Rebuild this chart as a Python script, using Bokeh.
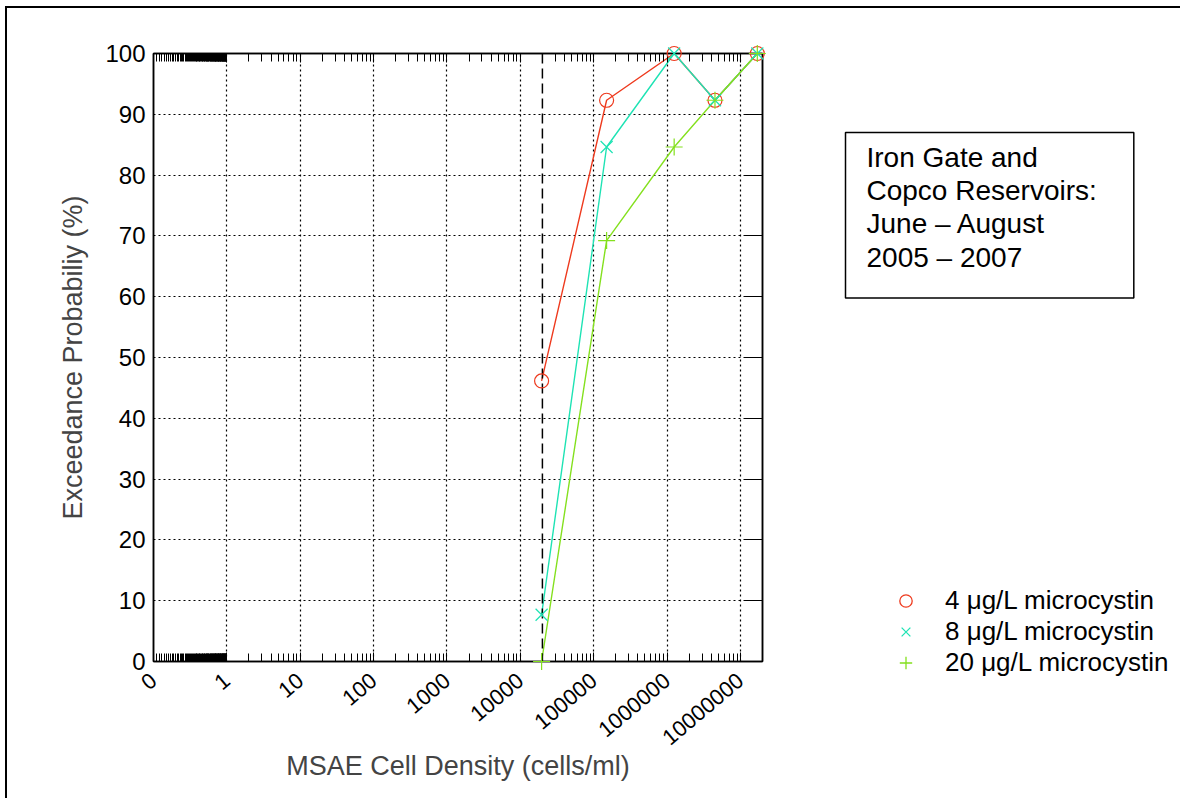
import math
import numpy as np
from bokeh.plotting import figure
from bokeh.layouts import row
from bokeh.models import (Range1d, FixedTicker, LogAxis, LinearAxis, CustomJSTickFormatter,
                          Span, Legend, LegendItem, Label)
from bokeh.embed import file_html
from bokeh.resources import INLINE

# ---- data ----
cell_density = [19500, 150000, 1250000, 4500000, 17000000]
prob_4 = [46.15, 92.31, 100.0, 92.31, 100.0]
prob_8 = [7.69, 84.62, 100.0, 92.31, 100.0]
prob_20 = [0.0, 69.23, 84.62, 92.31, 100.0]
series_labels = ["4 \u03bcg/L microcystin", "8 \u03bcg/L microcystin", "20 \u03bcg/L microcystin"]
threshold = 20000
x_major_ticks = [0.1, 1, 10, 100, 1000, 10000, 100000, 1000000, 10000000]
y_ticks = [0, 10, 20, 30, 40, 50, 60, 70, 80, 90, 100]
box_text = "Iron Gate and\nCopco Reservoirs:\nJune \u2013 August\n2005 \u2013 2007"
x_title = "MSAE Cell Density (cells/ml)"
y_title = "Exceedance Probabiliy (%)"

FONT = "Liberation Sans"
RED = "#EE3A1E"
CYAN = "#1EE3B4"
GREEN = "#84E01E"

minor = [0.1 + 0.01 * i for i in range(1, 90)]
minor += [m * 10 ** k for k in range(0, 8) for m in range(2, 10)]
minor = [v for v in minor if v <= 2e7]

TOTAL_W, TOTAL_H = 1180, 798
MAIN_W = 800
p = figure(width=MAIN_W, height=TOTAL_H, x_axis_type="log",
           x_range=Range1d(0.1, 2e7), y_range=Range1d(0, 100),
           output_backend="svg", toolbar_location=None,
           min_border_left=153, min_border_right=MAIN_W - 153 - 609,
           min_border_top=53, min_border_bottom=TOTAL_H - 53 - 608,
           background_fill_color="white", border_fill_color=None)
p.outline_line_color = "black"
p.outline_line_width = 1.5

xticker = FixedTicker(ticks=x_major_ticks, minor_ticks=minor)
yticker = FixedTicker(ticks=y_ticks)

xa = p.xaxis[0]
xa.ticker = xticker
xa.formatter = CustomJSTickFormatter(code="return tick < 0.5 ? '0' : tick.toFixed(0);")
xa.major_label_orientation = math.radians(40)
xa.major_label_standoff = 16
xa.major_label_text_font = FONT
xa.major_label_text_font_size = "22px"
xa.major_label_text_color = "black"
xa.major_tick_in = 9
xa.major_tick_out = 0
xa.minor_tick_in = 8
xa.minor_tick_out = 0
xa.major_tick_line_color = "black"
xa.minor_tick_line_color = "black"
xa.axis_line_width = 1.5
xa.axis_label = x_title
xa.axis_label_text_font = FONT
xa.axis_label_text_font_size = "27px"
xa.axis_label_text_font_style = "normal"
xa.axis_label_standoff = -4

ya = p.yaxis[0]
ya.ticker = yticker
ya.major_label_text_font = FONT
ya.major_label_text_font_size = "24px"
ya.major_label_text_color = "black"
ya.major_label_standoff = 8
ya.major_tick_in = 0
ya.major_tick_out = 0
ya.minor_tick_line_color = None
ya.axis_line_width = 1.5
ya.axis_label = y_title
ya.axis_label_text_font = FONT
ya.axis_label_text_font_size = "27px"
ya.axis_label_text_font_style = "normal"
ya.axis_label_standoff = 14

ra = LinearAxis(ticker=yticker, formatter=CustomJSTickFormatter(code="return '';"),
                major_tick_in=18, major_tick_out=0,
                minor_tick_line_color=None, axis_line_width=1.5,
                major_label_text_font_size="1px")
p.add_layout(ra, "right")
ta = LogAxis(ticker=xticker, formatter=CustomJSTickFormatter(code="return '';"),
             major_tick_in=9, major_tick_out=0, minor_tick_in=8, minor_tick_out=0,
             axis_line_width=1.5, major_label_text_font_size="1px")
p.add_layout(ta, "above")

for g in (p.xgrid[0], p.ygrid[0]):
    g.grid_line_color = "black"
    g.grid_line_dash = "2 3"
    g.grid_line_width = 1.2
p.xgrid[0].ticker = FixedTicker(ticks=x_major_ticks)
p.ygrid[0].ticker = yticker

p.add_layout(Span(location=threshold, dimension="height", line_color="black",
                  line_dash="10 5", line_width=1.5))

p.line(cell_density, prob_4, line_color=RED, line_width=1.4)
p.line(cell_density, prob_8, line_color=CYAN, line_width=1.4)
p.line(cell_density, prob_20, line_color=GREEN, line_width=1.4)
p.scatter(cell_density, prob_4, marker="circle", size=14, fill_color=None,
          line_color=RED, line_width=1.2, level="overlay")
p.scatter(cell_density, prob_8, marker="x", size=17, line_color=CYAN,
          line_width=1.2, level="overlay")
p.scatter(cell_density, prob_20, marker="cross", size=17, line_color=GREEN,
          line_width=1.2, level="overlay")

# ---- side panel with legend and note box ----
SIDE_W = TOTAL_W - MAIN_W
q = figure(width=SIDE_W, height=TOTAL_H, x_range=Range1d(0, 1), y_range=Range1d(0, 1),
           output_backend="svg", toolbar_location=None, title=None,
           x_axis_location=None, y_axis_location=None, min_border=0,
           background_fill_color=None, border_fill_color=None, outline_line_color=None)
q.frame_align = False
q.grid.visible = False
nan = np.array([np.nan])
k1 = q.scatter(x=nan, y=nan, marker="circle", size=14, fill_color=None,
               line_color=RED, line_width=1.3)
k2 = q.scatter(x=nan, y=nan, marker="x", size=15, line_color=CYAN, line_width=1.3)
k3 = q.scatter(x=nan, y=nan, marker="cross", size=15, line_color=GREEN, line_width=1.3)

legend = Legend(items=[LegendItem(label=series_labels[0], renderers=[k1]),
                       LegendItem(label=series_labels[1], renderers=[k2]),
                       LegendItem(label=series_labels[2], renderers=[k3])],
                location=(890 - MAIN_W, TOTAL_H - 677.5), border_line_color=None,
                background_fill_alpha=0,
                label_text_font=FONT, label_text_font_size="26px", label_text_color="black",
                glyph_width=31, glyph_height=31, label_standoff=24, spacing=0,
                padding=0, margin=0)
q.add_layout(legend)

# padding order: (left, right, top, bottom)
q.add_layout(Label(x=845 - MAIN_W, y=TOTAL_H - 132, x_units="screen", y_units="screen",
                   text=box_text, anchor="top_left",
                   text_font=FONT, text_font_size="28px", text_color="black",
                   text_align="left", text_baseline="top", text_line_height=1.08,
                   border_line_color="black", border_line_width=1.5,
                   background_fill_color="white", padding=(21, 37, 9, 25)))

layout = row(p, q)
layout.styles = {
    "background-color": "white",
    "background-image": "linear-gradient(#000,#000), linear-gradient(#000,#000)",
    "background-size": "2px 100%, 100% 2px",
    "background-position": "5px 6px, 5px 6px",
    "background-repeat": "no-repeat",
}

open("out.html", "w").write(file_html(layout, INLINE))
